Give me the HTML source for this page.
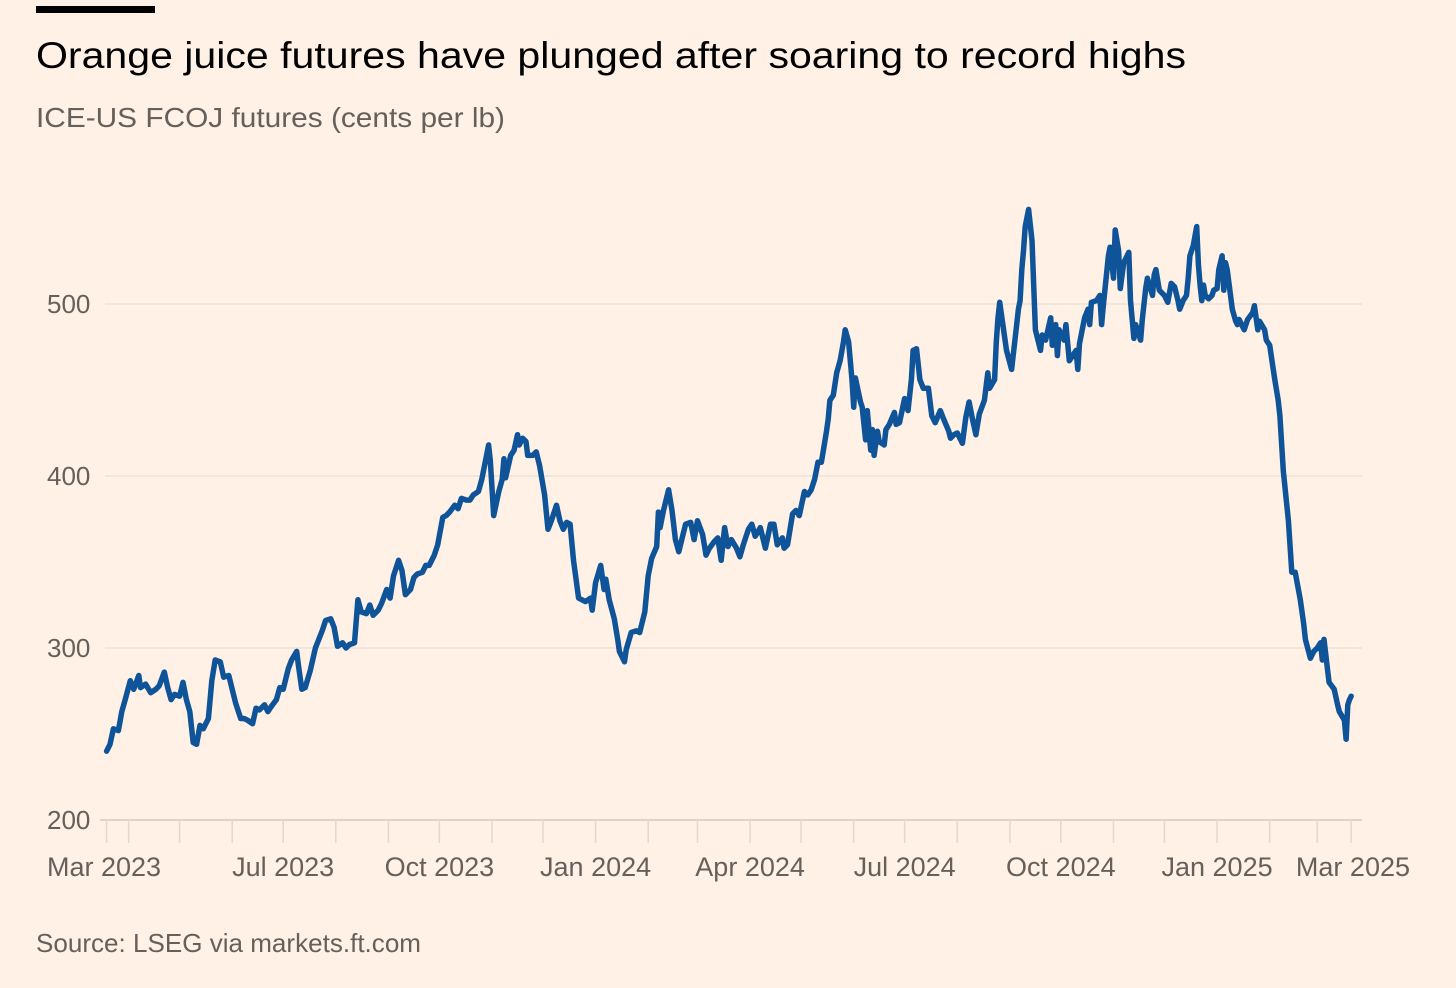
<!DOCTYPE html>
<html><head><meta charset="utf-8"><style>
html,body{margin:0;padding:0;background:#fff1e5;}
svg{display:block;font-family:"Liberation Sans",sans-serif;}
</style></head><body>
<svg id="chart" width="1456" height="988" viewBox="0 0 1456 988" xmlns="http://www.w3.org/2000/svg">
<rect width="1456" height="988" fill="#fff1e5"/>
<rect x="36" y="6" width="119" height="7" fill="#000"/>
<text x="36" y="68" font-size="37" fill="#000" textLength="1150" lengthAdjust="spacingAndGlyphs">Orange juice futures have plunged after soaring to record highs</text>
<text x="36" y="127" font-size="28" fill="#66605c" textLength="469" lengthAdjust="spacingAndGlyphs">ICE-US FCOJ futures (cents per lb)</text>
<g id="grid"></g>
<g id="yticks"></g>
<g id="xticks"></g>
<g id="series"></g>
<text x="36" y="952" font-size="26" fill="#66605c" textLength="385" lengthAdjust="spacingAndGlyphs">Source: LSEG via markets.ft.com</text>
</svg>
<script>
// days since 1 Mar 2023
const days = [18,20,22,25,27,29,32,34,37,38,41,44,47,49,52,54,56,58,61,63,65,67,69,71,73,75,78,80,82,85,87,90,92,94,97,99,101,104,106,108,111,113,115,118,120,122,125,127,130,131,133,135,138,141,145,147,150,152,154,157,159,161,164,166,168,171,173,175,178,180,183,185,187,190,192,194,197,199,201,204,206,208,211,213,216,218,220,223,225,227,230,232,234,237,239,241,243,244,246,249,251,252,253,256,258,260,261,263,265,266,269,271,273,276,278,280,283,285,287,289,291,293,296,298,300,303,304,306,309,311,312,314,317,319,320,323,324,327,330,332,335,337,339,342,343,344,346,349,351,353,355,357,359,362,364,366,369,371,373,376,378,380,382,384,386,389,391,393,396,398,400,403,405,406,409,411,413,416,417,419,422,424,426,429,431,433,435,437,439,442,443,444,446,448,450,452,453,455,457,458,459,462,463,465,466,468,469,470,472,473,476,477,479,482,483,485,488,490,492,493,495,497,499,502,504,506,509,511,514,515,517,519,522,524,526,528,530,532,535,537,538,541,542,543,544,548,551,554,555,556,557,558,559,561,563,565,568,569,571,574,575,577,578,579,582,583,585,587,589,590,591,594,596,597,598,601,603,604,605,608,609,610,611,612,614,615,617,620,621,623,624,627,628,630,631,634,635,636,638,641,643,645,647,649,650,652,654,655,656,658,660,661,662,663,664,665,667,669,670,672,673,675,676,677,678,681,683,684,685,688,690,693,694,696,697,700,701,703,706,708,709,711,714,716,718,721,723,724,727,729,730,731,733,734,735,737,738,741,743,744,747,748,749,750,751];
const prices = [240,244,253,252,263,270,281,276,284,277,279,274,276,278,286,277,270,273,272,280,270,263,245,244,255,253,259,281,293,292,283,284,276,268,259,259,258,256,265,264,267,263,266,270,277,276,288,293,298,290,276,277,287,300,310,316,317,312,301,303,300,302,303,328,321,320,325,319,322,326,334,329,342,351,345,331,334,341,343,344,348,348,354,360,376,377,379,383,381,387,386,386,389,391,398,408,418,409,377,391,398,410,399,412,415,424,418,422,420,412,412,414,406,389,369,374,383,374,369,373,372,351,329,328,327,329,322,338,348,334,340,328,317,305,298,292,299,309,310,309,321,342,352,359,379,370,380,392,380,363,356,364,372,373,363,374,366,354,358,362,364,351,370,359,363,358,353,360,369,372,365,370,362,358,372,372,360,364,358,360,378,380,377,391,389,392,398,408,408,426,433,444,447,460,467,478,485,478,456,440,457,443,440,421,438,415,427,412,426,420,418,427,430,437,430,431,445,438,456,473,474,456,451,451,435,431,438,433,426,422,424,425,419,434,443,433,424,436,444,460,451,456,478,492,501,473,462,488,497,502,520,531,545,555,537,485,473,482,479,492,476,488,470,485,479,488,467,470,473,462,477,492,497,488,501,502,505,488,499,528,533,524,515,543,531,509,524,530,502,480,488,479,491,509,515,505,517,520,508,505,501,512,510,502,497,502,505,515,528,534,545,523,511,502,511,505,503,505,508,509,520,528,508,524,520,497,490,488,491,485,491,495,499,485,490,485,479,476,456,444,435,403,374,344,344,328,314,305,294,298,299,300,303,293,305,288,280,276,267,263,258,247,267,270,272];
const yTicks = [200,300,400,500];
const xTickLabels = ["Mar 2023","Jul 2023","Oct 2023","Jan 2024","Apr 2024","Jul 2024","Oct 2024","Jan 2025","Mar 2025"];
const xTickDays = [18,122,214,306,397,488,580,672,751];
const monthDays = [31,61,92,122,153,184,214,245,275,306,337,366,397,427,458,488,519,550,580,611,641,672,703,731];

const NS = "http://www.w3.org/2000/svg";
function xS(d){ return 76 + d * 1.698; }
function yS(v){ return 820 - (v - 200) * 1.72; }
function mk(tag, attrs, parent){ const e = document.createElementNS(NS, tag); for (const k in attrs) e.setAttribute(k, attrs[k]); parent.appendChild(e); return e; }

const grid = document.getElementById('grid');
const yt = document.getElementById('yticks');
yTicks.forEach(v => {
  const l = mk('line', {x1: v===200?100:105, x2: 1362, y1: yS(v), y2: yS(v), stroke: v===200?'#ddd3ca':'#ece2d9', 'stroke-width': v===200?2:1.5}, grid);
  
  
  const t = mk('text', {x: 47, y: yS(v) + 9, 'font-size': 26, fill: '#66605c'}, yt);
  t.textContent = v;
  
  
});

const xt = document.getElementById('xticks');
monthDays.concat([18,751]).forEach(d => {
  const l = mk('line', {x1: xS(d), x2: xS(d), y1: 820, y2: 843, stroke: '#e2d8cf', 'stroke-width': 1.5}, xt);
  
  
});
xTickLabels.forEach((lab, i) => {
  const first = i === 0, last = i === xTickLabels.length - 1;
  const t = mk('text', {x: first ? 47 : last ? 1410 : xS(xTickDays[i]), y: 876, 'font-size': 27, fill: '#66605c', 'text-anchor': first ? 'start' : last ? 'end' : 'middle'}, xt);
  t.textContent = lab;
  
  
});

const pts = days.map((d, i) => xS(d).toFixed(1) + ',' + yS(prices[i]).toFixed(1)).join(' ');
const line = mk('polyline', {points: pts, fill: 'none', stroke: '#0f5499', 'stroke-width': 5.5, 'stroke-linejoin': 'round', 'stroke-linecap': 'round'}, document.getElementById('series'));


</script>
</body></html>
